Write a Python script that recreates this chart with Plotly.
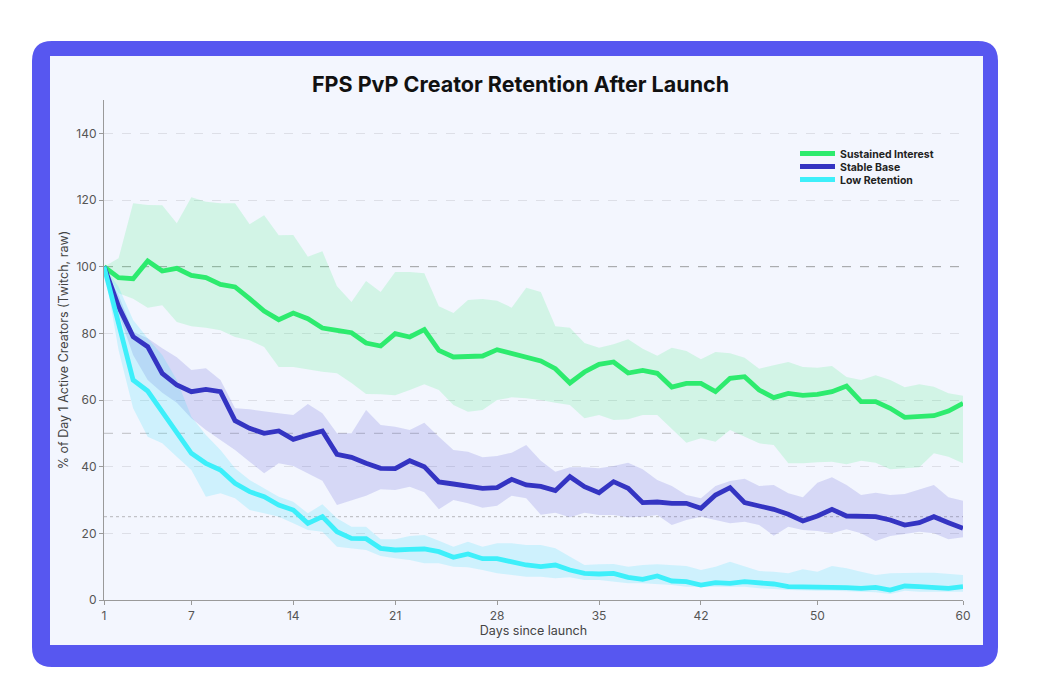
import plotly.graph_objects as go

days = list(range(1, 61))

sustained = [100, 96.7, 96.4, 101.7, 98.7, 99.5, 97.4, 96.7, 94.7, 93.9,
             90.4, 86.7, 84.1, 86.1, 84.4, 81.6, 80.9, 80.2, 77.1, 76.2,
             79.9, 78.9, 81.1, 74.9, 72.9, 72.9, 73.2, 75.1, 74.0, 72.9,
             71.7, 69.4, 65.1, 68.4, 70.7, 71.4, 68.1, 68.9, 68.0, 63.9,
             65.0, 65.0, 62.5, 66.5, 67.0, 63.0, 60.7, 62.0, 61.4, 61.7,
             62.5, 64.2, 59.5, 59.5, 57.5, 54.8, 55.2, 55.3, 56.7, 59.0]
sustained_hi = [100, 102.5, 119, 118.5, 118.4, 113, 120.8, 119.5, 119, 119,
                112.7, 115.4, 109.4, 109.5, 103, 104.6, 94.1, 89.4, 95.7, 92.4,
                98.4, 98.4, 98, 88.1, 86.1, 90, 90.3, 89.8, 87.7, 93.7,
                92.4, 82.1, 81.7, 77.1, 75.7, 76.7, 78.2, 75.4, 73.3, 75.7,
                74.7, 72.2, 74.4, 74, 72.7, 69.4, 70.4, 71.4, 69.9, 69.7,
                70.2, 66.9, 66, 67.4, 66, 63.8, 64.7, 64, 62, 61.3]
sustained_lo = [100, 92, 90.4, 87.7, 88.4, 83.4, 82.1, 81.7, 80.9, 78.9,
                77.9, 75.9, 69.9, 69.9, 69.2, 68.5, 68, 65.1, 61.8, 61.7,
                61.4, 63, 64.7, 63, 58.5, 56.5, 57, 60, 60.8, 60.5,
                60, 59.2, 58.5, 54.5, 55.5, 54, 54.2, 55.5, 55.5, 51.5,
                47.2, 48.5, 47.5, 51, 49, 47, 46.5, 41, 41, 41.3,
                41.5, 40.7, 41.8, 41.2, 39.2, 39.5, 39.8, 44, 43, 41]

stable = [100, 88, 79, 76, 68, 64.5, 62.5, 63.2, 62.5, 53.8,
          51.5, 50, 50.7, 48.2, 49.5, 50.7, 43.7, 42.8, 41, 39.5,
          39.4, 41.8, 40, 35.4, 34.8, 34, 33.5, 33.7, 36.2, 34.5,
          34.1, 32.8, 37, 34, 32.2, 35.5, 33.5, 29.2, 29.4, 29,
          29, 27.5, 31.5, 33.7, 29.2, 28.2, 27.2, 25.7, 23.7, 25.2,
          27.2, 25.2, 25.2, 25, 24, 22.5, 23.2, 25, 23.2, 21.5]
stable_hi = [100, 91.5, 80.5, 78.5, 75.5, 72.8, 69, 69.5, 66, 57.5,
             57.2, 56.5, 56, 55.5, 58.8, 56, 50, 50, 57, 52.5,
             52, 51, 53.2, 49, 45, 44.5, 42.8, 43.2, 44.2, 46.5,
             41.8, 38.5, 39.8, 39.8, 39.5, 40.2, 41.2, 39.2, 36, 34.2,
             31.5, 30.5, 34.2, 35.7, 36.4, 34.2, 34.5, 32, 30.8, 35.2,
             36.8, 34.5, 31.5, 32.2, 31.5, 31.8, 33.2, 34.5, 30.8, 29.8]
stable_lo = [100, 86, 73.5, 66, 62.2, 59.2, 54.5, 51, 48, 45,
             41.5, 38, 41, 40.2, 38, 35.8, 28.5, 29.8, 31.3, 33.2,
             33, 34, 32.3, 27.2, 30, 29, 27.7, 28.3, 31.3, 30.5,
             25.6, 26.2, 24.8, 26.2, 25.5, 25.5, 24.8, 25, 25.5, 22.5,
             24, 25, 24, 23, 23.5, 22.5, 19.3, 22, 21, 20.7,
             20, 21.2, 20, 17.7, 19.2, 19.8, 20.5, 20, 18.2, 18.8]

low = [100, 83, 66, 62.7, 56.5, 50.5, 44, 41, 39, 35,
       32.5, 31, 28.5, 27, 23, 25, 20.5, 18.5, 18.4, 15.5,
       15, 15.2, 15.3, 14.5, 12.8, 13.8, 12.4, 12.4, 11.3, 10.5,
       10, 10.5, 9, 8, 7.8, 8, 6.8, 6.2, 7.2, 5.7,
       5.5, 4.5, 5.2, 5, 5.5, 5.1, 4.8, 4, 4, 4,
       4, 3.7, 3.5, 3.8, 3, 4.2, 4, 3.8, 3.5, 4]
low_hi = [100, 94, 84, 78.5, 73.5, 66, 55, 49.5, 45, 39.5,
          36, 33.5, 31, 29.5, 26, 28.7, 24.5, 22, 22, 18.2,
          18.2, 19.2, 19.5, 17.8, 16, 17.5, 16, 17, 17, 16.5,
          16.5, 15.5, 13, 10.5, 10.7, 10.8, 10, 10.5, 10.7, 10.4,
          10.2, 9, 10, 11.5, 10, 8.7, 8.5, 8, 9.2, 8.5,
          10.2, 9.5, 8.5, 7.5, 8, 8.2, 8.2, 8.2, 7.8, 7.5]
low_lo = [100, 75, 57.5, 49, 47, 43, 39, 31, 32, 30.5,
          27, 26, 25, 23, 21, 20.5, 16, 15.5, 15, 13.2,
          12.5, 12, 11, 11, 10, 9.8, 9, 8, 7.5, 7,
          7, 6.5, 6.8, 6, 6, 5.5, 5, 5, 4.8, 4.5,
          4, 3.8, 3.8, 4, 4, 3.5, 3.3, 3, 2.8, 2.8,
          2.8, 2.5, 2.5, 2.3, 1.8, 2.8, 2.5, 2.5, 2.5, 2.5]

x_ticks = [1, 7, 14, 21, 28, 35, 42, 50, 60]
y_ticks = [0, 20, 40, 60, 80, 100, 120, 140]

series = [
    ("Sustained Interest", sustained, sustained_hi, sustained_lo, "#2DEB6E", "rgba(45,235,110,0.17)"),
    ("Stable Base", stable, stable_hi, stable_lo, "#3434C2", "rgba(70,70,210,0.17)"),
    ("Low Retention", low, low_hi, low_lo, "#3DEFFA", "rgba(60,225,250,0.20)"),
]
legend_ids = ["legend", "legend2", "legend3"]

fig = go.Figure()
for name, mid, hi, lo, col, fill in series:
    fig.add_trace(go.Scatter(
        x=days + days[::-1], y=hi + lo[::-1], fill="toself", fillcolor=fill,
        line=dict(width=0), mode="lines", showlegend=False, hoverinfo="skip"))
for (name, mid, hi, lo, col, fill), lid in zip(series, legend_ids):
    fig.add_trace(go.Scatter(
        x=days, y=mid, mode="lines", name=name, legend=lid,
        line=dict(color=col, width=4.8)))

# plot geometry in pixels (for background panels)
L, R, T, B = 104, 963, 100, 600
W, H = R - L, B - T

def px(x):
    return (x - L) / W

def py(y):
    return (B - y) / H

def rounded(x0, y0, x1, y1, r):
    X0, X1 = px(x0), px(x1)
    Y0, Y1 = py(y0), py(y1)
    rx, ry = r / W, r / H
    return (f"M {X0+rx},{Y0} L {X1-rx},{Y0} Q {X1},{Y0} {X1},{Y0-ry} "
            f"L {X1},{Y1+ry} Q {X1},{Y1} {X1-rx},{Y1} L {X0+rx},{Y1} "
            f"Q {X0},{Y1} {X0},{Y1+ry} L {X0},{Y0-ry} Q {X0},{Y0} {X0+rx},{Y0} Z")

shapes = [
    dict(type="path", xref="paper", yref="paper", layer="below",
         path=rounded(32, 41, 998, 667, 20), fillcolor="#5757F0", line=dict(width=0)),
    dict(type="rect", xref="paper", yref="paper", layer="below",
         x0=px(50), x1=px(983), y0=py(56), y1=py(645),
         fillcolor="#F3F6FE", line=dict(width=0)),
    dict(type="line", xref="paper", yref="y", x0=0, x1=1, y0=100, y1=100,
         line=dict(color="rgba(120,120,120,0.45)", width=1.3, dash="dash"), layer="below"),
    dict(type="line", xref="paper", yref="y", x0=0, x1=1, y0=50, y1=50,
         line=dict(color="rgba(120,120,120,0.35)", width=1.1, dash="dash"), layer="below"),
    dict(type="line", xref="paper", yref="y", x0=0, x1=1, y0=25, y1=25,
         line=dict(color="rgba(120,120,120,0.4)", width=1.1, dash="dot"), layer="below"),
]

legend_style = dict(xanchor="left", yanchor="top", bgcolor="rgba(0,0,0,0)",
                    font=dict(family="Inter, sans-serif", size=10.5, color="#222222", weight="bold"),
                    itemwidth=35)
legend_rows = [139, 152, 165]

fig.update_layout(
    width=1041, height=698,
    margin=dict(l=L, r=1041 - R, t=T, b=698 - B),
    paper_bgcolor="white", plot_bgcolor="rgba(0,0,0,0)",
    shapes=shapes,
    title=dict(text="<b>FPS PvP Creator Retention After Launch</b>",
               x=0.5, xanchor="center", y=1 - 84 / 698, yanchor="middle",
               font=dict(family="Inter, sans-serif", size=21.5, color="#111111", weight=800)),
    font=dict(family="Inter, sans-serif", color="#555555", size=12),
    legend=dict(x=px(795), y=py(legend_rows[0]), **legend_style),
    legend2=dict(x=px(795), y=py(legend_rows[1]), **legend_style),
    legend3=dict(x=px(795), y=py(legend_rows[2]), **legend_style),
    xaxis=dict(range=[1, 60], tickvals=x_ticks, ticktext=[str(t) for t in x_ticks],
               showgrid=False, zeroline=False, showline=True, linecolor="#9a9a9a",
               linewidth=1.2, ticks="outside", ticklen=4, tickcolor="#9a9a9a",
               tickfont=dict(size=12, color="#555555"),
               title=dict(text="Days since launch", standoff=4,
                          font=dict(size=12.5, color="#444444"))),
    yaxis=dict(range=[0, 150], tickvals=y_ticks, showgrid=True,
               gridcolor="rgba(0,0,0,0.09)", griddash="dash", gridwidth=1,
               zeroline=False, showline=True, linecolor="#9a9a9a", linewidth=1.2,
               ticks="outside", ticklen=4, tickcolor="#9a9a9a",
               tickfont=dict(size=12, color="#555555"),
               title=dict(text="% of Day 1 Active Creators (Twitch, raw)", standoff=4,
                          font=dict(size=12.5, color="#444444"))),
    hovermode=False,
)

fig.write_html("out.html")
